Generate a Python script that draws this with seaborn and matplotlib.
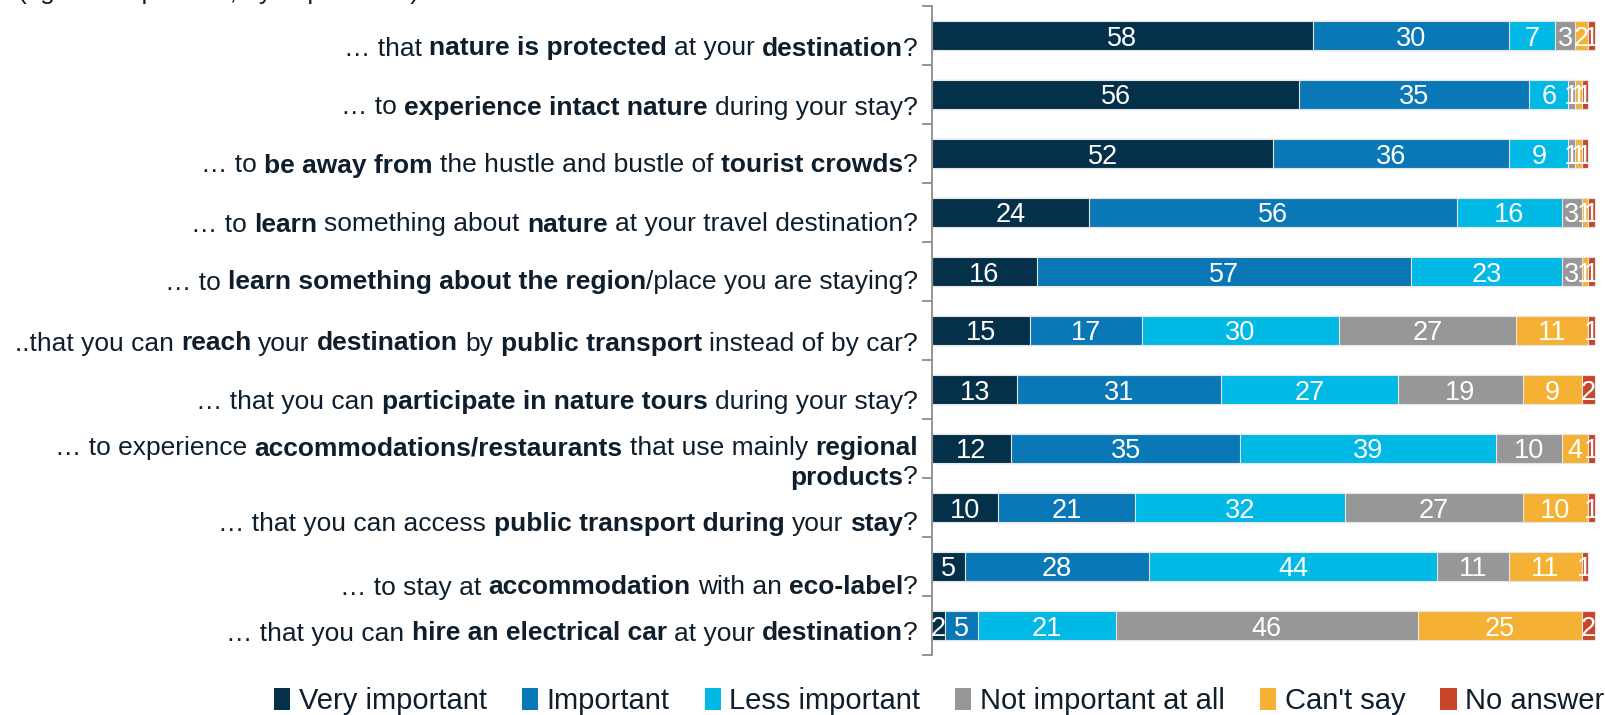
import matplotlib
matplotlib.use("Agg")
import matplotlib.pyplot as plt
import matplotlib.transforms as mtransforms
from matplotlib.patches import Patch
import seaborn as sns
import pandas as pd
import numpy as np

# ---------------- data ----------------
categories = [
    "nature protected", "intact nature", "away from crowds", "learn nature",
    "learn region", "reach by public transport", "nature tours",
    "regional products", "public transport during stay", "eco-label",
    "electrical car",
]
very_important = [58, 56, 52, 24, 16, 15, 13, 12, 10, 5, 2]
important = [30, 35, 36, 56, 57, 17, 31, 35, 21, 28, 5]
less_important = [7, 6, 9, 16, 23, 30, 27, 39, 32, 44, 21]
not_important = [3, 1, 1, 3, 3, 27, 19, 10, 27, 11, 46]
cant_say = [2, 1, 1, 1, 1, 11, 9, 4, 10, 11, 25]
no_answer = [1, 1, 1, 1, 1, 1, 2, 1, 1, 1, 2]

series_names = ["Very important", "Important", "Less important",
                "Not important at all", "Can't say", "No answer"]

# label pieces: list of lines, each line a list of (text, bold)
label_lines = [
    [[("… that ", False), ("nature is protected", True), (" at your ", False), ("destination", True), ("?", False)]],
    [[("… to ", False), ("experience intact nature", True), (" during your stay?", False)]],
    [[("… to ", False), ("be away from", True), (" the hustle and bustle of ", False), ("tourist crowds", True), ("?", False)]],
    [[("… to ", False), ("learn", True), (" something about ", False), ("nature", True), (" at your travel destination?", False)]],
    [[("… to ", False), ("learn something about the region", True), ("/place you are staying?", False)]],
    [[("..that you can ", False), ("reach", True), (" your ", False), ("destination", True), (" by ", False), ("public transport", True), (" instead of by car?", False)]],
    [[("… that you can ", False), ("participate in nature tours", True), (" during your stay?", False)]],
    [[("… to experience ", False), ("accommodations/restaurants", True), (" that use mainly ", False), ("regional", True)],
     [("products", True), ("?", False)]],
    [[("… that you can access ", False), ("public transport during", True), (" your ", False), ("stay", True), ("?", False)]],
    [[("… to stay at ", False), ("accommodation", True), (" with an ", False), ("eco-label", True), ("?", False)]],
    [[("… that you can ", False), ("hire an electrical car", True), (" at your ", False), ("destination", True), ("?", False)]],
]
# label vertical offsets below category centre (pixels, style only)
label_offsets = [11, 11, 10, 10, 9, 11, 10, -2, 14, 19, 6]

colors = ["#04304a", "#0a77b6", "#00b9e5", "#979797", "#f5b133", "#c7462a"]
text_color = "#0f1e2c"

# ---------------- figure ----------------
sns.set_theme(style="white")
plt.rcParams["font.family"] = ["Liberation Sans", "DejaVu Sans"]

W, H = 1605, 715
fig = plt.figure(figsize=(W / 100, H / 100), dpi=100)
ax_left, ax_right = 932, 1598
ax_top, ax_bottom = 6, 655
ax = fig.add_axes([ax_left / W, 1 - ax_bottom / H,
                   (ax_right - ax_left) / W, (ax_bottom - ax_top) / H])

df = pd.DataFrame({"cat": categories,
                   "Very important": very_important,
                   "Important": important,
                   "Less important": less_important,
                   "Not important at all": not_important,
                   "Can't say": cant_say,
                   "No answer": no_answer})
vals = df[series_names].to_numpy(dtype=float)
cum = np.cumsum(vals, axis=1)

# draw from the full stack down so each segment is visible
for k in range(len(series_names) - 1, -1, -1):
    sns.barplot(x=cum[:, k], y=df["cat"], orient="h", color=colors[k],
                saturation=1, width=0.5, ax=ax,
                edgecolor="#e6e6e6", linewidth=0.8)

ax.set_xlim(0, 101.5)
ax.set_ylim(len(categories) - 0.5, -0.5)

# value labels
for i in range(len(categories)):
    for k in range(len(series_names)):
        v = vals[i, k]
        c = cum[i, k] - v / 2
        ax.text(c, i, f"{int(v)}", ha="center", va="center_baseline",
                color="white", fontsize=19.5, clip_on=False)

# axes styling
for s in ["top", "right", "bottom"]:
    ax.spines[s].set_visible(False)
ax.spines["left"].set_color("#8c8c8c")
ax.spines["left"].set_linewidth(1.3)
ax.set_xticks([])
ax.set_yticks(np.arange(-0.5, len(categories) + 0.5, 1.0))
ax.set_yticklabels([])
ax.tick_params(axis="y", which="major", left=True, length=7, width=1.3,
               color="#8c8c8c", direction="out")
ax.set_xlabel("")
ax.set_ylabel("")

# rich category labels
renderer = fig.canvas.get_renderer()
label_fs = 19.0


def text_width(s, bold):
    t = fig.text(0, 0, s, fontsize=label_fs,
                 fontweight="bold" if bold else "normal")
    w = t.get_window_extent(renderer).width
    t.remove()
    return w


space_w = {b: text_width("x x", b) - text_width("xx", b) for b in (False, True)}
base = mtransforms.blended_transform_factory(ax.transAxes, ax.transData)
right_pad = 14
line_gap = 29
for i, lines in enumerate(label_lines):
    for li, line in enumerate(lines):
        x_off = right_pad
        for txt, bold in reversed(line):
            trail = len(txt) - len(txt.rstrip(" "))
            lead = len(txt) - len(txt.lstrip(" "))
            core = txt.strip(" ")
            x_off += trail * space_w[bold]
            tr = mtransforms.offset_copy(
                base, fig=fig, x=-x_off,
                y=-(label_offsets[i] + li * line_gap + 9), units="dots")
            t = ax.text(0, i, core, transform=tr, ha="right", va="baseline",
                        fontsize=label_fs, color=text_color,
                        fontweight="bold" if bold else "normal", clip_on=False)
            x_off += t.get_window_extent(renderer).width
            x_off += lead * space_w[bold]

# partly visible subtitle at the very top
fig.text(18 / W, 1 + 1 / H, "(figures in percent, by importance)",
         fontsize=19, color=text_color, va="baseline", ha="left")

# legend
handles = [Patch(facecolor=c, edgecolor="none") for c in colors]
fig.legend(handles, series_names, loc="center left",
           bbox_to_anchor=(274 / W, 1 - 701 / H), ncol=6, frameon=False,
           fontsize=21, handlelength=0.55, handleheight=0.75,
           handletextpad=0.3, columnspacing=1.2, labelcolor=text_color,
           borderaxespad=0, borderpad=0)

fig.savefig("out.png", dpi=100)
